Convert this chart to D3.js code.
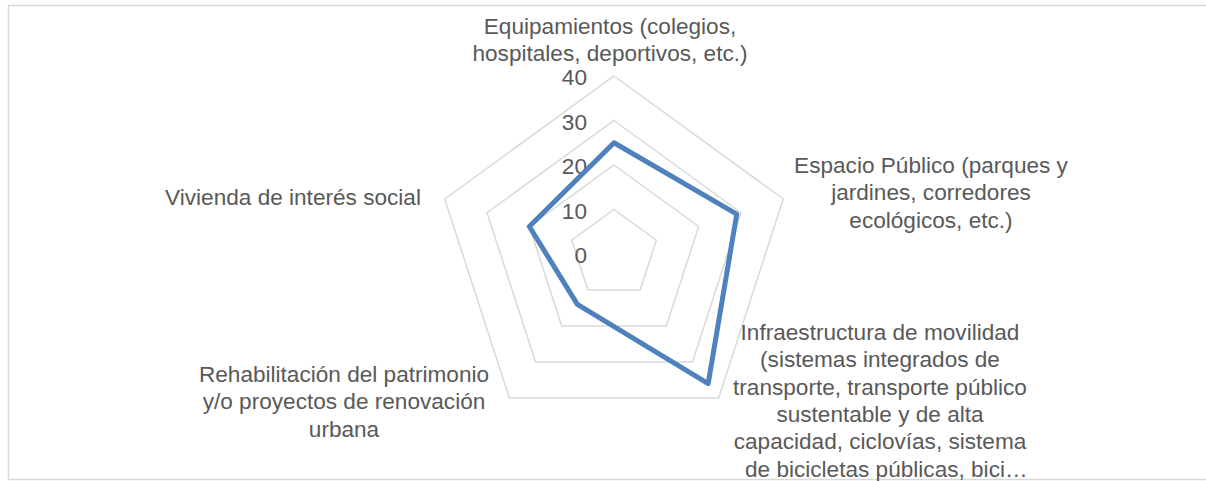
<!DOCTYPE html>
<html>
<head>
<meta charset="utf-8">
<script src="https://cdn.jsdelivr.net/npm/d3@7"></script>
<style>
  body { margin: 0; background: #fff; }
  text { font-family: "Liberation Sans", Arial, sans-serif; }
</style>
</head>
<body>
<div id="chart"></div>
<script>
const categories = [
  ['Equipamientos (colegios,', 'hospitales, deportivos, etc.)'],
  ['Espacio Público (parques y', 'jardines, corredores', 'ecológicos, etc.)'],
  ['Infraestructura de movilidad', '(sistemas integrados de', 'transporte, transporte público',
   'sustentable y de alta', 'capacidad, ciclovías, sistema', '  de bicicletas públicas, bici…'],
  ['Rehabilitación del patrimonio', 'y/o proyectos de renovación', 'urbana'],
  ['Vivienda de interés social']
];
const values = [25, 29, 36, 14, 20];
const ticks = [0, 10, 20, 30, 40];

// label anchor (center x, first baseline) for each axis
const labelPos = [
  [610, 34],
  [931, 173],
  [880, 340],
  [344, 382],
  [293, 205]
];

const width = 1206, height = 481;
const cx = 614, cy = 254;
const fontSize = 22.6;

const svg = d3.select('#chart')
  .append('svg')
  .attr('width', width)
  .attr('height', height);

// chart frame
svg.append('rect')
  .attr('x', 8.5).attr('y', 5.5)
  .attr('width', 1210).attr('height', 474)
  .attr('fill', 'none')
  .attr('stroke', '#d9d9d9')
  .attr('stroke-width', 1.5);

const r = d3.scaleLinear().domain([0, 40]).range([0, 178]);
const angle = i => (i * 2 * Math.PI) / categories.length;

const g = svg.append('g').attr('transform', 'translate(' + cx + ',' + cy + ')');

const line = d3.lineRadial()
  .angle((d, i) => angle(i))
  .radius(d => r(d))
  .curve(d3.curveLinearClosed);

// grid rings (0 ring collapses to the center)
g.append('g')
  .selectAll('path')
  .data(ticks.filter(t => t > 0))
  .enter()
  .append('path')
  .attr('d', t => line(categories.map(() => t)))
  .attr('fill', 'none')
  .attr('stroke', '#d9d9d9')
  .attr('stroke-width', 1.5);

// tick labels
g.append('g')
  .selectAll('text')
  .data(ticks)
  .enter()
  .append('text')
  .attr('x', -27)
  .attr('y', t => -r(t) + 9)
  .attr('text-anchor', 'end')
  .attr('font-size', fontSize)
  .attr('fill', '#595959')
  .text(t => t);

// data series
g.append('path')
  .attr('d', line(values))
  .attr('fill', 'none')
  .attr('stroke', '#4f81bd')
  .attr('stroke-width', 5)
  .attr('stroke-linejoin', 'round');

// category labels
svg.append('g')
  .selectAll('text')
  .data(categories)
  .enter()
  .append('text')
  .attr('font-size', fontSize)
  .attr('fill', '#595959')
  .attr('text-anchor', 'middle')
  .each(function (d, i) {
    d3.select(this)
      .selectAll('tspan')
      .data(d)
      .enter()
      .append('tspan')
      .attr('x', labelPos[i][0])
      .attr('y', (s, j) => labelPos[i][1] + j * 27.3)
      .style('white-space', 'pre')
      .text(s => s);
  });
</script>
</body>
</html>
